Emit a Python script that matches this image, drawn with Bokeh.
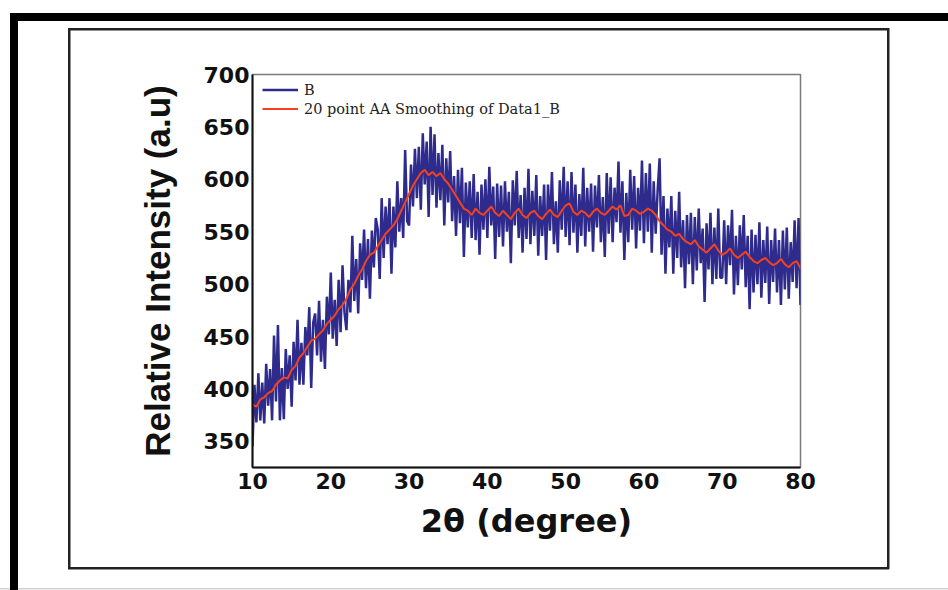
import numpy as np
from bokeh.plotting import figure
from bokeh.models import Legend, LegendItem, FixedTicker, Range1d, ColumnDataSource
from bokeh.embed import file_html
from bokeh.resources import INLINE

# XRD scan, 10-80 degrees 2-theta, 0.25 degree step
raw_start, raw_step = 10.0, 0.25
raw_intensity = [
    345, 404, 368, 415, 370, 406, 367, 424, 384, 419, 370, 451, 388, 461, 370, 420,
    371, 438, 400, 432, 383, 445, 408, 466, 404, 444, 404, 459, 432, 478, 401, 463,
    472, 432, 484, 426, 466, 419, 488, 452, 511, 448, 485, 441, 504, 454, 518, 473,
    456, 504, 473, 546, 484, 524, 472, 539, 504, 552, 496, 543, 486, 551, 516, 563,
    552, 505, 582, 525, 574, 538, 582, 510, 574, 535, 598, 550, 582, 544, 628, 560,
    556, 614, 574, 629, 582, 631, 571, 644, 595, 636, 564, 650, 585, 643, 573, 625,
    580, 633, 556, 620, 578, 627, 560, 603, 546, 609, 558, 611, 526, 597, 554, 598,
    544, 605, 542, 588, 528, 595, 552, 600, 544, 612, 556, 593, 524, 596, 545, 594,
    536, 598, 550, 588, 520, 599, 556, 608, 544, 585, 530, 592, 543, 610, 538, 589,
    546, 604, 527, 584, 546, 595, 523, 595, 551, 607, 538, 579, 530, 599, 552, 612,
    545, 598, 537, 607, 549, 595, 530, 586, 546, 611, 536, 592, 550, 596, 531, 594,
    554, 604, 540, 583, 526, 606, 548, 602, 540, 592, 559, 617, 549, 598, 523, 587,
    540, 609, 552, 603, 534, 592, 551, 618, 539, 606, 550, 615, 530, 598, 548, 589,
    620, 528, 584, 510, 572, 535, 584, 510, 570, 525, 588, 516, 561, 496, 566, 519,
    568, 500, 564, 513, 572, 520, 553, 483, 558, 514, 568, 500, 554, 505, 572, 506,
    506, 561, 500, 556, 518, 571, 490, 546, 499, 556, 514, 566, 497, 546, 476, 552,
    492, 547, 500, 559, 487, 542, 501, 555, 481, 542, 502, 553, 492, 542, 480, 551,
    495, 554, 486, 540, 502, 561, 496, 563, 480,
]

# 20 point adjacent-averaging result, 0.5 degree step
smooth_start, smooth_step = 10.0, 0.5
smooth_intensity = [
    385, 383, 390, 392, 396, 398, 404, 408, 411, 410,
    418, 422, 430, 434, 440, 446, 448, 452, 456, 462,
    466, 470, 476, 480, 486, 495, 500, 508, 514, 522,
    528, 530, 536, 542, 548, 552, 556, 562, 570, 578,
    586, 594, 600, 606, 609, 604, 607, 603, 606, 600,
    596, 590, 584, 578, 572, 570, 566, 572, 568, 566,
    570, 574, 568, 565, 570, 566, 562, 568, 572, 566,
    563, 568, 570, 565, 562, 567, 571, 566, 564, 570,
    575, 577, 569, 566, 570, 568, 564, 569, 572, 568,
    566, 570, 574, 571, 575, 565, 566, 572, 570, 567,
    569, 572, 570, 566, 560, 556, 552, 550, 546, 548,
    543, 540, 538, 542, 536, 533, 530, 534, 538, 532,
    528, 530, 534, 528, 525, 528, 531, 526, 522, 520,
    523, 525, 521, 518, 520, 524, 519, 516, 520, 522,
    515,
]

x_ticks = [10, 20, 30, 40, 50, 60, 70, 80]
y_ticks = [350, 400, 450, 500, 550, 600, 650, 700]

series_names = ["B", "20 point AA Smoothing of Data1_B"]

raw_theta = raw_start + raw_step * np.arange(len(raw_intensity))
smooth_theta = smooth_start + smooth_step * np.arange(len(smooth_intensity))

raw_src = ColumnDataSource(dict(x=raw_theta, y=raw_intensity))
smooth_src = ColumnDataSource(dict(x=smooth_theta, y=smooth_intensity))

p = figure(width=948, height=590, output_backend="svg", toolbar_location=None,
           x_range=Range1d(10, 80), y_range=Range1d(325, 700),
           min_border_left=252, min_border_right=148,
           min_border_top=74, min_border_bottom=123)
p.background_fill_color = "white"
p.border_fill_color = None
p.grid.visible = False
p.outline_line_color = "#7a7a7a"
p.outline_line_width = 1.5


def bar(color, x, y, w, h):
    return f"linear-gradient({color}, {color}) {x}px {y}px / {w}px {h}px no-repeat"


# page frames behind the canvas: heavy rule on top and left, thin box round the chart
frames = [
    bar("#000000", 10, 13, 938, 8),
    bar("#000000", 10, 13, 8, 577),
    bar("#222222", 68, 28, 821, 2.5),
    bar("#222222", 68, 567, 821, 2.5),
    bar("#222222", 68, 28, 2.5, 541),
    bar("#222222", 886.5, 28, 2.5, 541),
    bar("#d0d0d0", 0, 588, 948, 1.5),
]
p.styles = {"background": ", ".join(frames) + ", #ffffff"}

raw_r = p.line("x", "y", source=raw_src, line_color="#2e2b8d", line_width=2.5)
smooth_r = p.line("x", "y", source=smooth_src, line_color="#f5421e", line_width=2.0)

for ax in (p.xaxis[0], p.yaxis[0]):
    ax.axis_line_color = "#111111"
    ax.axis_line_width = 2
    ax.major_tick_line_color = None
    ax.minor_tick_line_color = None
    ax.major_label_text_font = "DejaVu Sans"
    ax.major_label_text_font_style = "bold"
    ax.major_label_text_font_size = "22px"
    ax.major_label_text_color = "#111111"
    ax.axis_label_text_font_style = "bold"
    ax.axis_label_text_color = "#111111"

p.xaxis.ticker = FixedTicker(ticks=x_ticks)
p.yaxis.ticker = FixedTicker(ticks=y_ticks)
p.xaxis.major_label_standoff = -1
p.yaxis.major_label_standoff = -3

p.xaxis.axis_label = "2θ (degree)"
p.xaxis.axis_label_text_font = "DejaVu Sans"
p.xaxis.axis_label_text_font_size = "32px"
p.xaxis.axis_label_standoff = 10

p.yaxis.axis_label = "Relative Intensity (a.u)"
p.yaxis.axis_label_text_font = "Liberation Sans"
p.yaxis.axis_label_text_font_size = "35px"
p.yaxis.axis_label_standoff = 24

legend = Legend(items=[LegendItem(label=series_names[0], renderers=[raw_r]),
                       LegendItem(label=series_names[1], renderers=[smooth_r])],
                location=(10, 350), margin=0, padding=6, spacing=2,
                glyph_width=36, glyph_height=17, label_height=17,
                label_standoff=6,
                label_text_font="DejaVu Serif", label_text_font_size="14.5px",
                label_text_color="#222222",
                background_fill_alpha=0, border_line_color=None)
p.add_layout(legend)

open("out.html", "w").write(file_html(p, INLINE))
